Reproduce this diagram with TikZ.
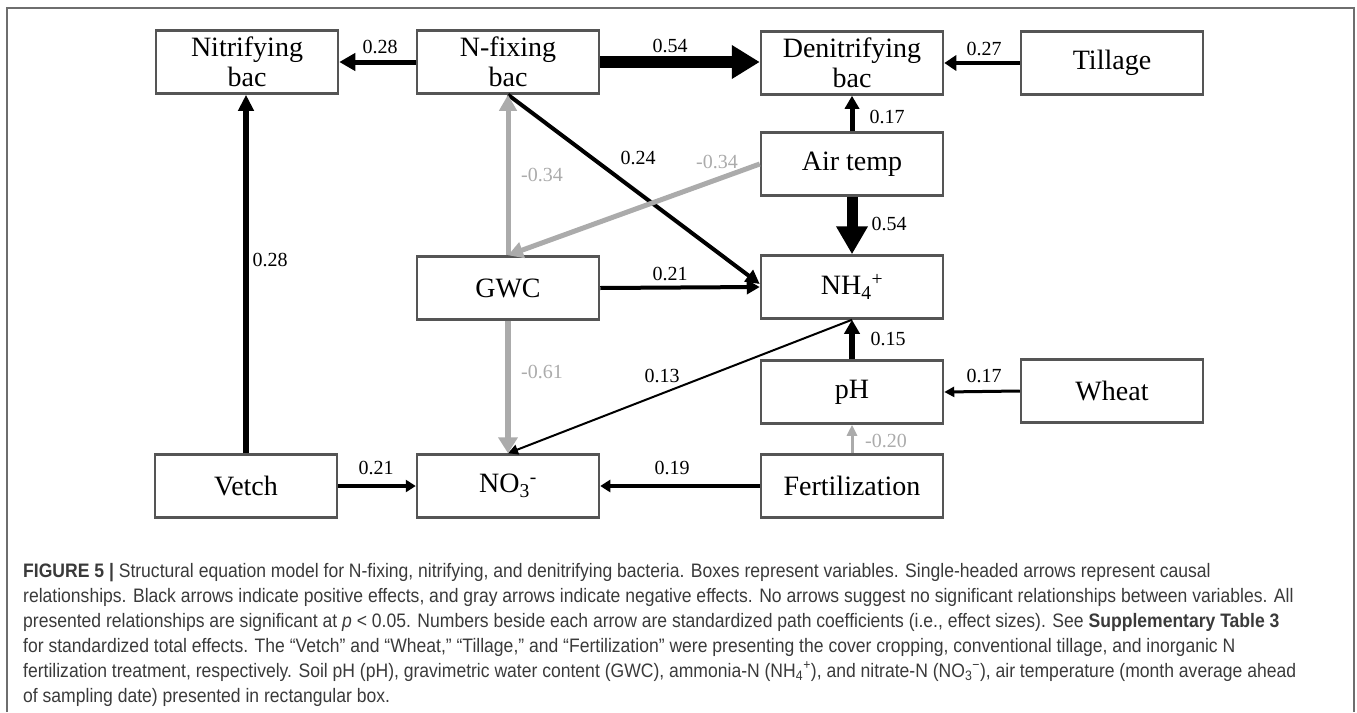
\documentclass[tikz,border=0pt]{standalone}
\usepackage{fontspec}
\setmainfont{Liberation Serif}
\newfontfamily\capfont[FakeStretch=0.90]{Liberation Sans}
\usetikzlibrary{arrows.meta}
\definecolor{boxgray}{HTML}{555555}
\definecolor{neg}{HTML}{ABABAB}
\definecolor{captext}{HTML}{3A3A3A}
\definecolor{framegray}{HTML}{6E6E6E}
\begin{document}
\begin{tikzpicture}[x=1pt,y=-1pt,
  var/.style={draw=boxgray, line width=2.5pt, fill=white, minimum width=182pt,
    minimum height=63pt, inner sep=0pt, align=center,
    font=\fontsize{28}{30}\selectfont},
  coef/.style={font=\fontsize{20}{22}\selectfont, inner sep=0pt, text=black},
  negcoef/.style={coef, text=neg},
  link/.style args={#1/#2/#3}{draw=black, line width=#1pt,
    -{Triangle[length=#2pt,width=#3pt]}},
  neglink/.style args={#1/#2/#3}{draw=neg, line width=#1pt,
    -{Triangle[length=#2pt,width=#3pt]}},
  capline/.style={anchor=base west, inner sep=0pt, text=captext,
    font=\capfont\fontsize{19.5}{25}\selectfont}]
\useasboundingbox (0,0) rectangle (1357,712);
% frame
\draw[framegray, line width=1.5pt] (7,712) -- (7,8) -- (1354,8) -- (1354,712);
% variables
\node[var] (nit)   at (247,62)  {Nitrifying\\bac};
\node[var] (nfix)  at (508,62)  {N-fixing\\bac};
\node[var] (den)   at (852,63)  {Denitrifying\\bac};
\node[var] (till)  at (1112,63) {Tillage};
\node[var] (air)   at (852,164) {Air temp};
\node[var] (gwc)   at (508,288) {GWC};
\node[var] (nh4)   at (852,287) {NH\textsubscript{4}\textsuperscript{+}};
\node[var] (ph)    at (852,392) {pH};
\node[var] (wheat) at (1112,391) {Wheat};
\node[var] (vetch) at (246,486) {Vetch};
\node[var] (no3)   at (508,486) {NO\textsubscript{3}\textsuperscript{-}};
\node[var] (fert)  at (852,486) {Fertilization};
% positive paths
\draw[link=5/16/17]    (nfix.west) -- (nit.east);
\draw[link=12/28/32]   (nfix.east) -- (nfix.east -| den.west);
\draw[link=4.5/12/15]  (till.west) -- (den.east);
\draw[link=5/13/14]    (air.north) -- (den.south);
\draw[link=11/28/30]   (air.south) -- (nh4.north);
\draw[link=4/14/14]    (nfix.south) -- ([yshift=3pt]nh4.west);
\draw[link=4/13/14]    (gwc.east) -- (nh4.west);
\draw[link=5.5/14/15]  (ph.north) -- (nh4.south);
\draw[link=2/10/10]    (nh4.south) -- (no3.north);
\draw[link=3/10/10]    (wheat.west) -- (ph.east);
\draw[link=4/10/12]    (fert.west) -- (no3.east);
\draw[link=4/10/12]    (vetch.east) -- (no3.west);
\draw[link=5.5/16/15]  (vetch.north) -- (vetch.north |- nit.south);
% negative paths
\draw[neglink=5/15/16] (air.west) -- (gwc.north);
\draw[neglink=5/16/17] (gwc.north) -- (nfix.south);
\draw[neglink=6/16/19] (gwc.south) -- (no3.north);
\draw[neglink=3/11/10] (fert.north) -- (ph.south);
% coefficients
\node[coef] (c1)  at (380,47)  {0.28};
\node[coef] (c2)  at (670,46)  {0.54};
\node[coef] (c3)  at (984,49)  {0.27};
\node[coef] (c4)  at (887,117) {0.17};
\node[coef] (c5)  at (889,224) {0.54};
\node[negcoef] (c6) at (717,162) {-0.34};
\node[negcoef] (c7) at (542,175) {-0.34};
\node[coef] (c8)  at (638,158) {0.24};
\node[coef] (c9)  at (670,274) {0.21};
\node[negcoef] (c10) at (542,372) {-0.61};
\node[coef] (c11) at (888,339) {0.15};
\node[coef] (c12) at (662,376) {0.13};
\node[coef] (c13) at (984,376) {0.17};
\node[negcoef] (c14) at (886,441) {-0.20};
\node[coef] (c15) at (672,468) {0.19};
\node[coef] (c16) at (376,468) {0.21};
\node[coef] (c17) at (270,260) {0.28};
% caption
\node[capline] (cap1) at (23,577) {\textbf{FIGURE 5 |} Structural equation model for N-fixing, nitrifying, and denitrifying bacteria. Boxes represent variables. Single-headed arrows represent causal};
\node[capline] (cap2) at (23,602) {relationships. Black arrows indicate positive effects, and gray arrows indicate negative effects. No arrows suggest no significant relationships between variables. All};
\node[capline] (cap3) at (23,627) {presented relationships are significant at \textit{p} < 0.05. Numbers beside each arrow are standardized path coefficients (i.e., effect sizes). See \textbf{Supplementary Table 3}};
\node[capline] (cap4) at (23,652) {for standardized total effects. The “Vetch” and “Wheat,” “Tillage,” and “Fertilization” were presenting the cover cropping, conventional tillage, and inorganic N};
\node[capline] (cap5) at (23,677) {fertilization treatment, respectively. Soil pH (pH), gravimetric water content (GWC), ammonia-N (NH\textsubscript{4}\textsuperscript{+}), and nitrate-N (NO\textsubscript{3}\textsuperscript{−}), air temperature (month average ahead};
\node[capline] (cap6) at (23,702) {of sampling date) presented in rectangular box.};
\end{tikzpicture}
\end{document}
